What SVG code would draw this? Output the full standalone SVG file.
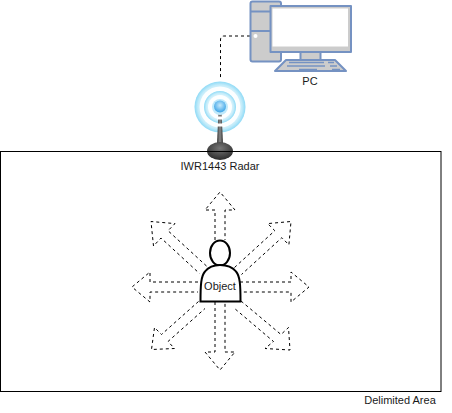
<svg xmlns="http://www.w3.org/2000/svg" width="452" height="413" viewBox="0 0 452 413">
<style>
text{font-family:"Liberation Sans",Arial,sans-serif;font-size:11px;fill:#1a1a1a;text-anchor:middle}
.ar{fill:#fff;stroke:#000;stroke-width:1;stroke-dasharray:3 3}
.pc{stroke:#7592c2;stroke-width:2;stroke-linejoin:round}
.obj{fill:#fff;stroke:#000;stroke-width:2}
</style>
<defs>
<radialGradient id="ring" cx="50%" cy="50%" r="50%">
<stop offset="0" stop-color="#fff"/><stop offset=".6" stop-color="#f2fbfe"/><stop offset=".86" stop-color="#c4ecfa"/><stop offset="1" stop-color="#8edaf6"/>
</radialGradient>
<radialGradient id="ball" cx="50%" cy="40%" r="60%">
<stop offset="0" stop-color="#c8eafc"/><stop offset="1" stop-color="#3aa3e6"/>
</radialGradient>
<radialGradient id="base" cx="50%" cy="35%" r="65%">
<stop offset="0" stop-color="#777"/><stop offset="1" stop-color="#2c2c2c"/>
</radialGradient>
<linearGradient id="stalk" x1="0" x2="1" y1="0" y2="0">
<stop offset="0" stop-color="#333"/><stop offset=".5" stop-color="#888"/><stop offset="1" stop-color="#333"/>
</linearGradient>
</defs>
<g id="area"><rect x="0.5" y="151.500" width="440.500" height="240" fill="none" stroke="#000"/></g>
<g id="connectors">
<path d="M250 36H224Q220.500 36 220.500 40V80" fill="none" stroke="#000" stroke-dasharray="3 3"/>
</g>
<g id="pc">
<rect class="pc" x="250.500" y="1.500" width="30.500" height="60" rx="2" fill="#ccc"/>
<path class="pc" d="M250.500 11.500H281M250.500 31H281" fill="none"/>
<circle cx="255.500" cy="36" r="2" fill="#fff"/>
<rect class="pc" x="300.500" y="52" width="20" height="8" fill="#ccc"/>
<rect class="pc" x="270.500" y="6" width="80.500" height="46" fill="#ccc"/>
<rect x="272.500" y="8.500" width="75.500" height="38" fill="#fff"/>
<path class="pc" d="M286 60H335L346 71H275Z" fill="#ccc"/>
<path d="M289 62.500H324M328 62.500H334M287 66H325M330 66H337M299 69.500H317M332 69.500H340" stroke="#7592c2" stroke-width="1.500" fill="none"/>
<text x="310" y="85">PC</text>
</g>
<g id="radar">
<circle cx="220" cy="107" r="25.500" fill="url(#ring)"/>
<circle cx="220" cy="107" r="20.500" fill="#fff" fill-opacity=".9"/>
<circle cx="220" cy="107" r="16" fill="url(#ring)"/>
<circle cx="220" cy="107" r="12" fill="#fff" fill-opacity=".9"/>
<path d="M218.500 112H221.500L223 143H217Z" fill="url(#stalk)"/>
<path d="M217 118H223M217 125H223" stroke="#fff" stroke-width="3" fill="none"/>
<circle cx="220" cy="107" r="8" fill="#bfe9fb"/>
<circle cx="220" cy="106.500" r="6" fill="url(#ball)"/>
<ellipse cx="220" cy="151" rx="13" ry="9" fill="url(#base)"/>
<path d="M0 151.500H441" stroke="#000"/>
<text x="220" y="170">IWR1443 Radar</text>
</g>
<g id="arrows">
<path class="ar" d="M215 240V210H205L220 192L235 210H225V240"/>
<path class="ar" d="M215 302V352H205L220 370L235 352H225V302"/>
<path class="ar" d="M198 282H150V272L132 287L150 302V292H198"/>
<path class="ar" d="M240 282H291V272L309 287L291 302V292H240"/>
<path class="ar" d="M234.500 267.500L274.800 230.700L267.700 223.600L291 221.500L288.900 244.800L281.800 237.700L241.500 274.500"/>
<path class="ar" d="M206.500 266L168 230.700L175 223.600L151 221.500L153.500 246L161 238L199.500 273.500"/>
<path class="ar" d="M198.500 301.500L161.500 334.500L154.500 327.500L151.500 349.500L174.500 348.500L168 341.500L205 308.500"/>
<path class="ar" d="M241 301L281 334.500L288.500 327.500L290 350L265 348.500L273.500 341.500L234 308"/>
</g>
<g id="object">
<ellipse class="obj" cx="220" cy="253" rx="10" ry="12.500"/>
<path class="obj" d="M200.500 301.500C200.500 285 201 276 205 271.500C209 266.500 214 265 220 265C226 265 232 266.500 236 271.500C240 276 240.500 285 240.500 301.500Z"/>
<text x="220" y="290">Object</text>
</g>
<text id="area-label" x="400" y="404">Delimited Area</text>
</svg>
